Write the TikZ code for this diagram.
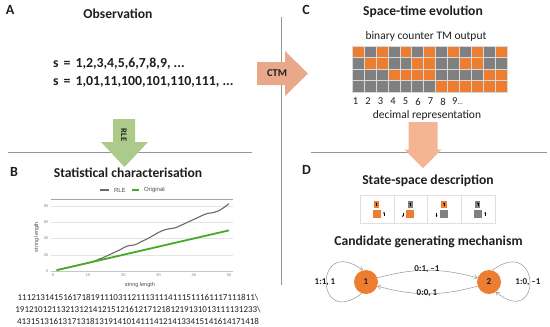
\documentclass[tikz,border=0pt]{standalone}
\usepackage{fontspec}
\setmainfont{Carlito}
\newfontfamily\chartfont{Liberation Sans}
\usetikzlibrary{arrows.meta, positioning, calc}
\definecolor{tmorange}{RGB}{237,125,49}
\definecolor{tmgray}{RGB}{128,128,128}
\definecolor{ctmfill}{RGB}{233,168,138}
\definecolor{decfill}{RGB}{244,181,148}
\definecolor{rlefill}{RGB}{172,202,138}
\definecolor{rulegray}{RGB}{150,150,150}
\definecolor{mydark}{RGB}{30,30,30}
\definecolor{rlegray}{RGB}{105,105,105}
\definecolor{origgreen}{RGB}{70,170,40}
\definecolor{gridgray}{RGB}{228,228,228}
\tikzset{
  panelletter/.style={font=\fontsize{14}{16}\selectfont\bfseries, text=mydark, inner sep=0pt},
  paneltitle/.style={font=\fontsize{13.6}{15}\selectfont\bfseries, text=mydark, inner sep=0pt},
  subtitle/.style={font=\fontsize{11.5}{13}\selectfont, text=mydark, inner sep=0pt},
  seqtext/.style={font=\fontsize{13.8}{15}\selectfont\bfseries, text=mydark, inner sep=0pt, anchor=west},
  arrowlabel/.style={font=\fontsize{10.5}{12}\selectfont\bfseries, text=mydark, inner sep=0pt},
  declabel/.style={font=\fontsize{10.5}{12}\selectfont, text=mydark, inner sep=0pt},
  rledigits/.style={font=\fontsize{9}{10}\selectfont, text=mydark, inner sep=0pt},
  ticklabel/.style={font=\chartfont\fontsize{4}{5}\selectfont, text=gray, inner sep=0pt},
  axislabel/.style={font=\chartfont\fontsize{5.5}{6}\selectfont, text=mydark!80, inner sep=0pt},
  legendlabel/.style={font=\chartfont\fontsize{6}{7}\selectfont, text=mydark!80, inner sep=0pt},
  rule/.style={draw=rulegray, line width=0.8pt},
  chartgrid/.style={draw=gridgray, line width=0.4pt},
  rleline/.style={draw=rlegray, line width=1.1pt},
  origline/.style={draw=origgreen, line width=1.8pt},
  statebox/.style={draw=gray!25, line width=0.5pt},
  tmstate/.style={circle, fill=tmorange, minimum size=24pt, inner sep=0pt,
    font=\fontsize{9}{10}\selectfont\bfseries, text=mydark},
  tmedge/.style={-{Straight Barb[length=3pt, width=4.5pt]}, draw=tmgray!85, line width=0.5pt},
  edgelabel/.style={font=\fontsize{9}{10}\selectfont\bfseries, text=mydark, inner sep=0pt}
}
\begin{document}
\begin{tikzpicture}[x=1pt, y=-1pt]
  \useasboundingbox (0,0) rectangle (550,327);

  \draw[rule] (281,17) -- (281,285);
  \draw[rule] (8,152) -- (252,152);
  \draw[rule] (311,152) -- (547,152);

  % A: observation
  \node[panelletter] (labA) at (10,9.5) {A};
  \node[paneltitle] (obs) at (118,14) {Observation};
  \node[seqtext] (seqdec) at (53,64) {s\hspace{5pt}=\hspace{5pt}1,2,3,4,5,6,7,8,9, ...};
  \node[seqtext] (seqbin) at (53,82) {s\hspace{5pt}=\hspace{5pt}1,01,11,100,101,110,111, ...};

  % block arrows
  \fill[ctmfill] (257,62) -- (285,62) -- (285,51) -- (308,73.5) -- (285,96) -- (285,85) -- (257,85) -- cycle;
  \node[arrowlabel] (ctm) at (277,73.5) {CTM};
  \fill[rlefill] (113,119) -- (135,119) -- (135,142) -- (148,142) -- (124.5,167) -- (101,142) -- (113,142) -- cycle;
  \node[arrowlabel, rotate=-90, font=\fontsize{8.5}{10}\selectfont\bfseries] (rle) at (124,135) {RLE};
  \fill[decfill] (408.5,122) -- (437.5,122) -- (437.5,149.5) -- (441.5,149.5) -- (423,168) -- (404.5,149.5) -- (408.5,149.5) -- cycle;

  % C: space-time evolution
  \node[panelletter] (labC) at (306,9.5) {C};
  \node[paneltitle] (stev) at (423,12) {Space-time evolution};
  \node[subtitle] (tmout) at (426,36) {binary counter TM output};
  \foreach \r/\bits in {0/{1,0,1,0,1,0,1,0,1,0,1,0,1}, 1/{0,1,1,0,0,1,1,0,0,1,1,0,0},
                        2/{0,0,0,1,1,1,1,0,0,0,0,1,1}, 3/{0,0,0,0,0,0,0,1,1,1,1,1,1}}{
    \foreach \b [count=\c] in \bits {
      \ifnum\b=1 \def\cellcol{tmorange}\else\def\cellcol{tmgray}\fi
      \filldraw[fill=\cellcol, draw=white!70!gray, line width=0.3pt]
        ({352+(\c-1)*11.92},{46+\r*11.5}) rectangle ++(11.92,11.5);
    }
  }
  \foreach \n in {1,...,8}
    \node[declabel] (dec\n) at ({355.5+(\n-1)*12.5},101.5) {\n};
  \node[declabel, anchor=west] (dec9) at (452,101.5) {9\raisebox{0pt}{\fontsize{7}{8}\selectfont...}};
  \node[subtitle] (decrep) at (427,115) {decimal representation};

  % B: statistics
  \node[panelletter] (labB) at (14,171.5) {B};
  \node[paneltitle] (stat) at (128,173) {Statistical characterisation};
  \begin{scope}[shift={(53,271)}, x=3.52pt, y=0.8125pt]
    \foreach \v in {20,40,60,80}{
      \draw[chartgrid] (-0.6,\v) -- (51.1,\v);
      \node[ticklabel, anchor=east] (ytick\v) at (-1.3,\v) {\v};
    }
    \node[ticklabel, anchor=east] (ytick0) at (-1.3,0) {0};
    \draw[draw=gray!70, line width=0.5pt] (-0.6,88.6) -- (51.1,88.6);
    \draw[draw=gray!45, line width=0.4pt] (-0.6,0) -- (51.1,0);
    \foreach \v in {0,10,...,50}
      \node[ticklabel] (xtick\v) at (\v,-5.5) {\v};
    \node[axislabel, rotate=90] (ylab) at (-4.6,41.8) {string length};
    \node[axislabel] (xlab) at (24.7,-17.5) {string length};
    \draw[rleline] (13.4,99.7) -- (15.9,99.7);
    \node[legendlabel] (legrle) at (19,99.7) {RLE};
    \draw[origline] (22.4,99.7) -- (24.4,99.7);
    \node[legendlabel] (legorig) at (28.8,99.7) {Original};
    \draw[rleline] plot coordinates {(1,1) (2,2) (3,3) (4,4) (5,5) (6,6) (7,7) (8,8)
      (9,9) (10,10) (11,11) (12,12.5) (13,14.5) (14,16) (15,18) (16,20) (17,22)
      (18,24) (19,26) (20,28.5) (21,30.5) (22,31.5) (23,32) (24,33.5) (25,36)
      (26,38) (27,40) (28,42.5) (29,45) (30,47.5) (31,49.5) (32,51) (33,52)
      (34,52.5) (35,53.5) (36,55.5) (37,57.5) (38,59.5) (39,61.5) (40,63.5)
      (41,65.5) (42,67.5) (43,69.5) (44,71) (45,71.5) (46,72.5) (47,74)
      (48,76.5) (49,79.5) (50,83)};
    \draw[origline] (1,1) -- (50,50);
  \end{scope}
  \node[rledigits] (rle1) at (138,298) {1112131415161718191110311211131114111511161117111811\textbackslash};
  \node[rledigits] (rle2) at (138,310) {19121012113213121412151216121712181219131013111131233\textbackslash};
  \node[rledigits] (rle3) at (138,321.5) {41315131613171318131914101411141214133415141614171418};

  % D: state space and machine
  \node[panelletter] (labD) at (306.5,169.5) {D};
  \node[paneltitle] (ssd) at (428,181) {State-space description};
  \foreach \i/\top/\bot/\side in {1/tmorange/tmorange/1, 2/tmgray/tmorange/-1, 3/tmorange/tmgray/-1, 4/tmgray/tmgray/1}{
    \pgfmathsetmacro\boxleft{360+(\i-1)*33.75}
    \pgfmathsetmacro\cx{\boxleft+16.5}
    \draw[statebox] (\boxleft,195) rectangle ++(33.75,28);
    \fill[\top] (\cx-2.6,201) rectangle (\cx+2.6,207.5);
    \fill[\bot] (\cx-4,210) rectangle (\cx+4,218);
    \draw[-{Stealth[length=1.6pt, width=1.6pt]}, line width=0.45pt] (\cx,206) -- (\cx,202.5);
    \ifnum\side=1
      \draw[-{Stealth[length=1.6pt, width=1.8pt]}, line width=0.5pt] (\cx+7.5,216) -- (\cx+7.5,212);
    \else
      \draw[-{Stealth[length=1.6pt, width=1.8pt]}, line width=0.5pt] (\cx-7.5,213) -- (\cx-7.5,217);
    \fi
  }
  \node[paneltitle] (cgm) at (428.5,241.5) {Candidate generating mechanism};
  \node[tmstate] (s1) at (366,282) {1};
  \node[tmstate] (s2) at (489,282) {2};
  \draw[tmedge] (s1.20) to[bend left=15] (s2.160);
  \draw[tmedge] (s2.200) to[bend left=15] (s1.340);
  \draw[tmedge] (s1.250) .. controls (314,330) and (314,234) .. (s1.105);
  \draw[tmedge] (s2.75) .. controls (542,234) and (542,330) .. (s2.-55);
  \node[edgelabel] (e12) at (427,269) {0:1, --1};
  \node[edgelabel] (e21) at (427,293.5) {0:0, 1};
  \node[edgelabel] (l11) at (325,282) {1:1, 1};
  \node[edgelabel] (l22) at (528,282) {1:0, --1};
\end{tikzpicture}
\end{document}
